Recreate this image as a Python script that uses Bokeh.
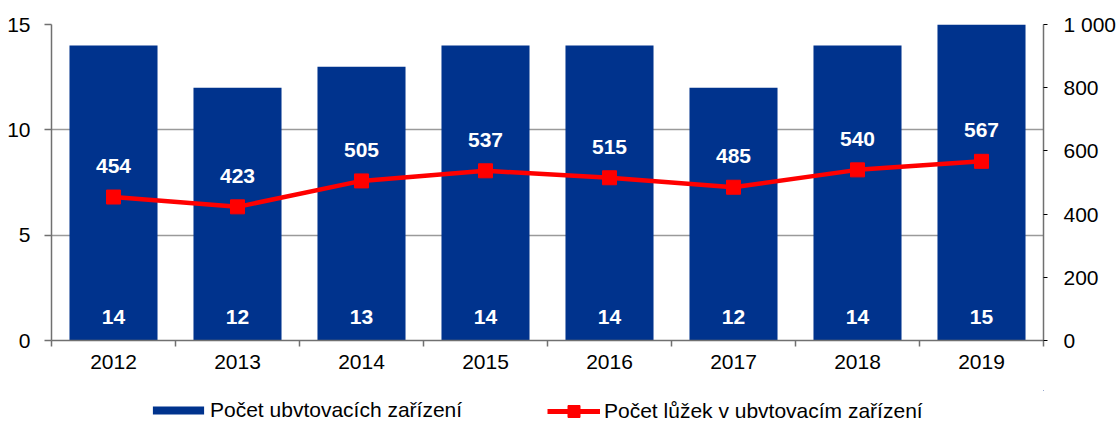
from bokeh.plotting import figure
from bokeh.layouts import column
from bokeh.models import (Range1d, LinearAxis, FixedTicker, LabelSet, ColumnDataSource,
                          Legend, LegendItem)
from bokeh.core.properties import value
from bokeh.embed import file_html
from bokeh.resources import INLINE

years = ["2012", "2013", "2014", "2015", "2016", "2017", "2018", "2019"]
facilities = [14, 12, 13, 14, 14, 12, 14, 15]
beds = [454, 423, 505, 537, 515, 485, 540, 567]
left_ticks = [0, 5, 10, 15]
right_ticks = [0, 200, 400, 600, 800, 1000]
right_tick_labels = ["0", "200", "400", "600", "800", "1 000"]
series_names = ["Počet ubvtovacích zařízení", "Počet lůžek v ubvtovacím zařízení"]

FONT = "Liberation Sans"
BLUE = "#00338D"
RED = "#FF0000"
AXIS = "#707070"

n = len(years)
xpos = [i + 0.5 for i in range(n)]
src = ColumnDataSource(dict(
    x=xpos, fac=facilities, beds=beds,
    fac_lbl=[str(v) for v in facilities],
    beds_lbl=[str(v) for v in beds],
    zero=[0] * n,
))

p = figure(width=1119, height=390, output_backend="svg", toolbar_location=None,
           x_range=Range1d(0, n), y_range=Range1d(0, 15),
           min_border_left=51, min_border_right=73, min_border_top=24, min_border_bottom=50)
p.extra_y_ranges = {"right": Range1d(0, 1000)}
p.outline_line_color = None
p.xgrid.visible = False
p.ygrid.ticker = FixedTicker(ticks=left_ticks[1:])
p.ygrid.grid_line_color = "#9a9a9a"
p.ygrid.grid_line_width = 1.5

# x axis
xa = p.xaxis[0]
xa.ticker = FixedTicker(ticks=xpos, minor_ticks=list(range(n + 1)))
xa.major_label_overrides = {xv: y for xv, y in zip(xpos, years)}
xa.major_tick_out = 0
xa.major_tick_in = 0
xa.minor_tick_out = 6
xa.minor_tick_in = 0
xa.minor_tick_line_color = AXIS
xa.minor_tick_line_width = 1.5
xa.axis_line_color = AXIS
xa.axis_line_width = 1.5
xa.major_label_standoff = 8
xa.major_label_text_font = FONT
xa.major_label_text_font_size = "21px"
xa.major_label_text_color = "#000000"

# left axis
ya = p.yaxis[0]
ya.ticker = FixedTicker(ticks=left_ticks)
ya.major_tick_out = 7
ya.major_tick_in = 0
ya.minor_tick_out = 0
ya.minor_tick_in = 0
ya.major_tick_line_color = AXIS
ya.major_tick_line_width = 1.5
ya.axis_line_color = AXIS
ya.axis_line_width = 1.5
ya.major_label_standoff = 14
ya.major_label_text_font = FONT
ya.major_label_text_font_size = "21px"
ya.major_label_text_color = "#000000"

# right axis
ra = LinearAxis(y_range_name="right", ticker=FixedTicker(ticks=right_ticks))
ra.major_label_overrides = {t: l for t, l in zip(right_ticks, right_tick_labels)}
ra.major_tick_out = 4
ra.major_tick_in = 0
ra.minor_tick_out = 0
ra.minor_tick_in = 0
ra.major_tick_line_color = "#000000"
ra.axis_line_color = AXIS
ra.axis_line_width = 1.5
ra.major_label_standoff = 16
ra.major_label_text_font = FONT
ra.major_label_text_font_size = "21px"
ra.major_label_text_color = "#000000"
p.add_layout(ra, "right")

p.vbar(x="x", top="fac", width=0.71, source=src, fill_color=BLUE, line_color=None)
p.line(x="x", y="beds", source=src, y_range_name="right", line_color=RED, line_width=4.5)
p.scatter(x="x", y="beds", source=src, y_range_name="right", marker="square",
          size=14, fill_color=RED, line_color=RED)

p.add_layout(LabelSet(x="x", y="zero", text="fac_lbl", source=src, y_offset=24,
                      text_align="center", text_baseline="middle", text_color="white",
                      text_font=value(FONT), text_font_size="21px", text_font_style="bold"))
p.add_layout(LabelSet(x="x", y="beds", text="beds_lbl", source=src, y_range_name="right",
                      y_offset=31, text_align="center", text_baseline="middle",
                      text_color="white", text_font=value(FONT), text_font_size="21px",
                      text_font_style="bold"))

# legend strip (frame is aligned with the main plot's frame by the column layout)
lg = figure(width=1119, height=31, output_backend="svg", toolbar_location=None,
            x_axis_type=None, y_axis_type=None,
            x_range=Range1d(-20, -10), y_range=Range1d(-20, -10), min_border=0)
lg.outline_line_color = None
# proxies share the chart's data but lie outside this strip's visible range
bar_proxy = lg.vbar(x="x", top="fac", width=0.71, source=src, fill_color=BLUE, line_color=None)
line_proxy = lg.line(x="x", y="beds", source=src, line_color=RED, line_width=5)
mark_proxy = lg.scatter(x="x", y="beds", source=src, marker="square",
                        fill_color=RED, line_color=RED)

common = dict(orientation="horizontal", padding=0, margin=0, spacing=0,
              border_line_color=None, background_fill_alpha=0,
              label_text_font=FONT, label_text_font_size="21px",
              label_text_color="#000000", label_height=21)
leg1 = Legend(items=[LegendItem(label=series_names[0], renderers=[bar_proxy])],
              location=(95, -0.5), glyph_width=64, glyph_height=10, label_standoff=0, **common)
leg2 = Legend(items=[LegendItem(label=series_names[1], renderers=[line_proxy, mark_proxy])],
              location=(496, -5), glyph_width=53, glyph_height=30, label_standoff=4, **common)
lg.add_layout(leg1, "center")
lg.add_layout(leg2, "center")

layout = column(p, lg, spacing=0)
open("out.html", "w").write(file_html(layout, INLINE))
